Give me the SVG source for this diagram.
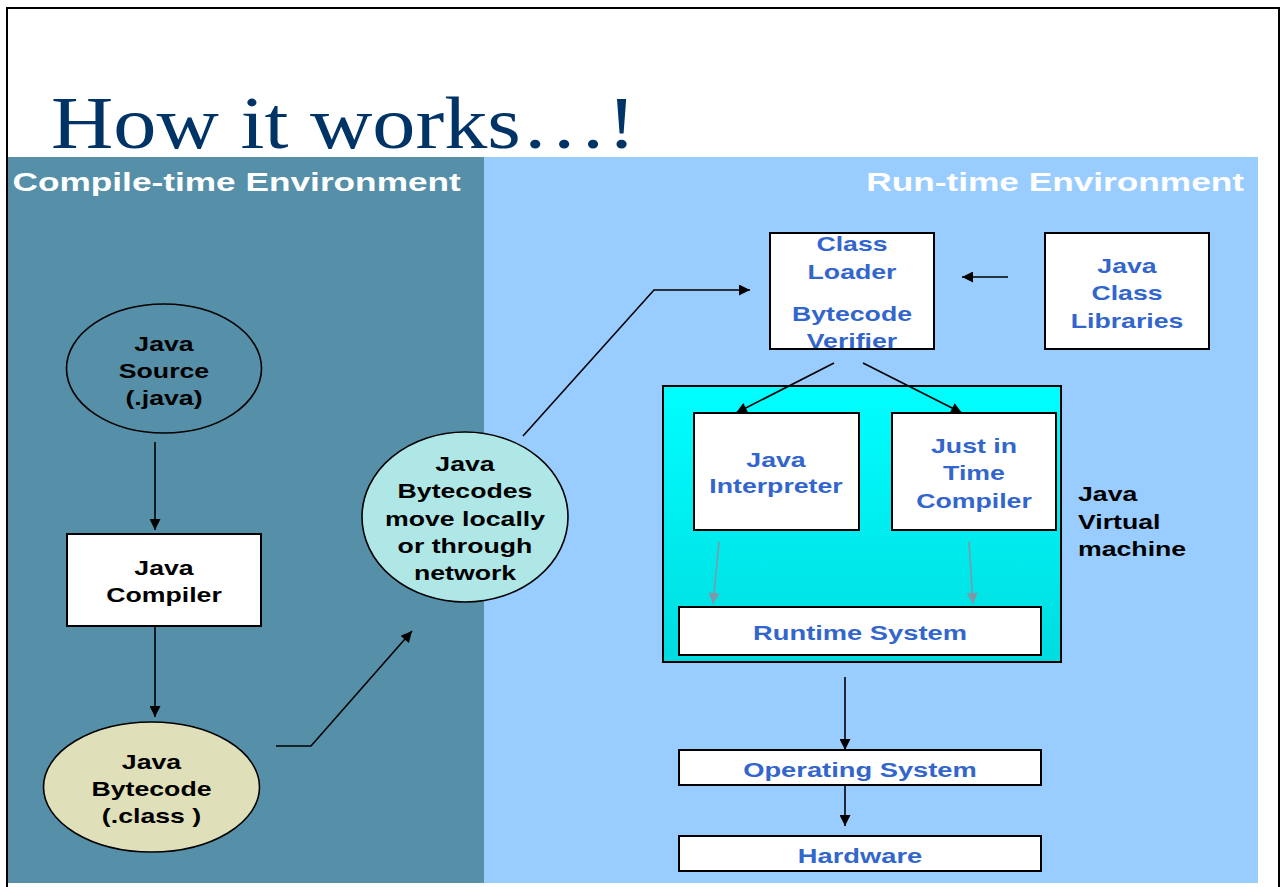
<svg xmlns="http://www.w3.org/2000/svg" width="1285" height="887" viewBox="0 0 1285 887">
  <defs>
    <marker id="ah" viewBox="0 0 10 10" refX="10" refY="5" markerWidth="13" markerHeight="11" markerUnits="userSpaceOnUse" orient="auto">
      <path d="M0,0 L10,5 L0,10 z" fill="#000"/>
    </marker>
    <marker id="ahg" viewBox="0 0 10 10" refX="10" refY="5" markerWidth="13" markerHeight="11" markerUnits="userSpaceOnUse" orient="auto">
      <path d="M0,0 L10,5 L0,10 z" fill="#7F98AA"/>
    </marker>
    <linearGradient id="jvmg" x1="0" y1="0" x2="0" y2="1">
      <stop offset="0" stop-color="#00FFFF"/>
      <stop offset="1" stop-color="#00DCE0"/>
    </linearGradient>
    <style>
      .hdr { font-family: "Liberation Sans", Arial, sans-serif; font-weight: bold; font-size: 26.5px; fill: #FFFFFF; }
      .blk { font-family: "Liberation Sans", Arial, sans-serif; font-weight: bold; font-size: 21px; fill: #000000; text-anchor: middle; }
      .lft { text-anchor: start; }
      .blu { font-family: "Liberation Sans", Arial, sans-serif; font-weight: bold; font-size: 21px; fill: #3366CC; text-anchor: middle; }
      .box { fill: #FFFFFF; stroke: #000000; stroke-width: 2; }
      .con { fill: none; stroke: #000000; stroke-width: 1.6; }
      .cong { fill: none; stroke: #7F98AA; stroke-width: 1.6; }
    </style>
  </defs>

  <rect x="0" y="0" width="1285" height="887" fill="#FFFFFF"/>
  <!-- frame -->
  <path d="M7,887 L7,8 L1279,8 L1279,887" fill="none" stroke="#000" stroke-width="2"/>

  <!-- title -->
  <text x="51" y="148" font-family="'Liberation Serif', 'Times New Roman', serif" font-size="74" fill="#003366" textLength="585" lengthAdjust="spacingAndGlyphs">How it works…!</text>

  <!-- panels -->
  <rect x="8" y="157" width="476" height="726" fill="#568FA8"/>
  <rect x="484" y="157" width="774" height="726" fill="#99CCFF"/>
  <g transform="translate(12.5,0) scale(1.33,1)"><text class="hdr" x="0" y="191">Compile-time Environment</text></g>
  <g transform="translate(1244,0) scale(1.33,1)"><text class="hdr" x="0" y="191" text-anchor="end">Run-time Environment</text></g>

  <!-- JVM container -->
  <g id="jvm">
    <rect x="663" y="386" width="398" height="276" fill="url(#jvmg)" stroke="#000" stroke-width="2"/>
    <g transform="translate(1078,0) scale(1.27,1)">
      <text class="blk lft" x="0" y="501">Java</text>
      <text class="blk lft" x="0" y="529">Virtual</text>
      <text class="blk lft" x="0" y="556">machine</text>
    </g>
  </g>

  <g id="java-source">
    <ellipse cx="164" cy="368.5" rx="97.5" ry="64.5" fill="none" stroke="#000" stroke-width="1.6"/>
    <g transform="translate(164,0) scale(1.27,1)">
      <text class="blk" x="0" y="351">Java</text>
      <text class="blk" x="0" y="378">Source</text>
      <text class="blk" x="0" y="405">(.java)</text>
    </g>
  </g>

  <g id="java-compiler">
    <rect class="box" x="67" y="534" width="194" height="92"/>
    <g transform="translate(164,0) scale(1.27,1)">
      <text class="blk" x="0" y="575">Java</text>
      <text class="blk" x="0" y="602">Compiler</text>
    </g>
  </g>

  <g id="java-bytecode">
    <ellipse cx="151.5" cy="787" rx="108" ry="65" fill="#DFDFB9" stroke="#000" stroke-width="1.6"/>
    <g transform="translate(151.5,0) scale(1.27,1)">
      <text class="blk" x="0" y="769">Java</text>
      <text class="blk" x="0" y="796">Bytecode</text>
      <text class="blk" x="0" y="823">(.class )</text>
    </g>
  </g>

  <g id="bytecodes-network">
    <ellipse cx="465" cy="517" rx="103" ry="85" fill="#AFE6E6" stroke="#000" stroke-width="1.6"/>
    <g transform="translate(465,0) scale(1.27,1)">
      <text class="blk" x="0" y="471">Java</text>
      <text class="blk" x="0" y="498">Bytecodes</text>
      <text class="blk" x="0" y="526">move locally</text>
      <text class="blk" x="0" y="553">or through</text>
      <text class="blk" x="0" y="580">network</text>
    </g>
  </g>

  <g id="class-loader">
    <rect class="box" x="770" y="233" width="164" height="116"/>
    <g transform="translate(852,0) scale(1.27,1)">
      <text class="blu" x="0" y="251">Class</text>
      <text class="blu" x="0" y="279">Loader</text>
      <text class="blu" x="0" y="321">Bytecode</text>
      <text class="blu" x="0" y="348">Verifier</text>
    </g>
  </g>

  <g id="class-libraries">
    <rect class="box" x="1045" y="233" width="164" height="116"/>
    <g transform="translate(1127,0) scale(1.27,1)">
      <text class="blu" x="0" y="273">Java</text>
      <text class="blu" x="0" y="300">Class</text>
      <text class="blu" x="0" y="328">Libraries</text>
    </g>
  </g>

  <g id="interpreter">
    <rect class="box" x="694" y="413" width="165" height="117"/>
    <g transform="translate(776,0) scale(1.27,1)">
      <text class="blu" x="0" y="467">Java</text>
      <text class="blu" x="0" y="493">Interpreter</text>
    </g>
  </g>

  <g id="jit">
    <rect class="box" x="892" y="413" width="164" height="117"/>
    <g transform="translate(974,0) scale(1.27,1)">
      <text class="blu" x="0" y="453">Just in</text>
      <text class="blu" x="0" y="480">Time</text>
      <text class="blu" x="0" y="508">Compiler</text>
    </g>
  </g>

  <g id="runtime-system">
    <rect class="box" x="679" y="607" width="362" height="48"/>
    <g transform="translate(860,0) scale(1.3,1)">
      <text class="blu" x="0" y="640">Runtime System</text>
    </g>
  </g>

  <g id="operating-system">
    <rect class="box" x="679" y="750" width="362" height="35"/>
    <g transform="translate(860,0) scale(1.3,1)">
      <text class="blu" x="0" y="777">Operating System</text>
    </g>
  </g>

  <g id="hardware">
    <rect class="box" x="679" y="836" width="362" height="35"/>
    <g transform="translate(860,0) scale(1.3,1)">
      <text class="blu" x="0" y="863">Hardware</text>
    </g>
  </g>

  <g id="connectors">
    <line class="con" x1="155" y1="442" x2="155" y2="530" marker-end="url(#ah)"/>
    <line class="con" x1="155" y1="626" x2="155" y2="717" marker-end="url(#ah)"/>
    <polyline class="con" points="276,746 311,746 412,631" marker-end="url(#ah)"/>
    <polyline class="con" points="523,436 654,290 750,290" marker-end="url(#ah)"/>
    <line class="con" x1="1008" y1="277" x2="962" y2="277" marker-end="url(#ah)"/>
    <line class="con" x1="834" y1="363" x2="736" y2="413" marker-end="url(#ah)"/>
    <line class="con" x1="863" y1="363" x2="962" y2="413" marker-end="url(#ah)"/>
    <line class="cong" x1="719" y1="542" x2="713" y2="604" marker-end="url(#ahg)"/>
    <line class="cong" x1="969" y1="542" x2="973" y2="604" marker-end="url(#ahg)"/>
    <line class="con" x1="845" y1="677" x2="845" y2="750" marker-end="url(#ah)"/>
    <line class="con" x1="845" y1="785" x2="845" y2="826" marker-end="url(#ah)"/>
  </g>
</svg>
